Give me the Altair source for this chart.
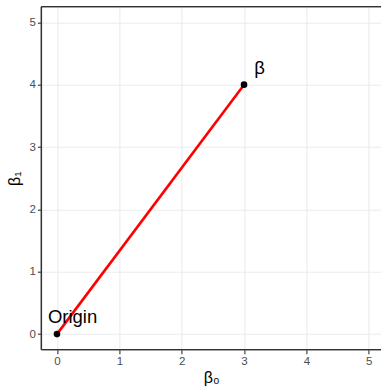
import altair as alt
import pandas as pd

# data
pt_x = [0, 3]
pt_y = [0, 4]
labels = ["Origin", "β"]
label_x = [0.25, 3.25]
label_y = [0.28, 4.27]
ticks = [0, 1, 2, 3, 4, 5]

pts = pd.DataFrame({"x": pt_x, "y": pt_y})
lab = pd.DataFrame({"x": label_x, "y": label_y, "label": labels})

W = 339.6
H = 343
# right edge of the panel falls just outside the 381px window in the reference
xs = alt.Scale(domain=[-0.25, 5.197], nice=False, zero=False)
ys = alt.Scale(domain=[-0.25, 5.25], nice=False, zero=False)

axis_common = dict(
    values=ticks,
    grid=True,
    gridColor="#EBEBEB",
    gridWidth=1.1,
    domain=False,
    tickColor="#333333",
    tickSize=4,
    tickWidth=1.1,
    labelColor="#4D4D4D",
    labelFont="Liberation Sans",
    labelFontSize=11.5,
    labelPadding=2,
    titleFont="Liberation Sans",
    titleFontSize=16,
    titleFontWeight="normal",
    titleColor="black",
    format="d",
)

xaxis = alt.Axis(title="β₀", titlePadding=2, **axis_common)
yaxis = alt.Axis(title="β₁", titlePadding=7, **axis_common)

line = alt.Chart(pts).mark_line(color="#FF0000", strokeWidth=2.6).encode(
    x=alt.X("x:Q", scale=xs, axis=xaxis),
    y=alt.Y("y:Q", scale=ys, axis=yaxis),
)

points = alt.Chart(pts).mark_circle(color="black", size=44, opacity=1).encode(
    x=alt.X("x:Q", scale=xs),
    y=alt.Y("y:Q", scale=ys),
)

text = alt.Chart(lab).mark_text(
    font="Liberation Sans", fontSize=18.5, color="black", align="center", baseline="middle"
).encode(
    x=alt.X("x:Q", scale=xs),
    y=alt.Y("y:Q", scale=ys),
    text="label:N",
)

# panel border (top, left, bottom; the right side is outside the window)
bstyle = dict(color="#333333", strokeWidth=1.3)
b_top = alt.Chart(pts).mark_rule(**bstyle).encode(x=alt.value(0), x2=alt.value(W + 2), y=alt.value(0))
b_bot = alt.Chart(pts).mark_rule(**bstyle).encode(x=alt.value(0), x2=alt.value(W + 2), y=alt.value(H))
b_left = alt.Chart(pts).mark_rule(**bstyle).encode(x=alt.value(0), y=alt.value(0), y2=alt.value(H))

chart = (
    alt.layer(line, points, text, b_top, b_bot, b_left)
    .properties(
        width=W,
        height=H,
        autosize=alt.AutoSizeParams(type="none"),
        padding={"left": 41.4, "top": 6.7, "right": 0, "bottom": 37.3},
        background="white",
    )
    .configure_view(stroke=None)
)

chart.save("out.html", embed_options={"renderer": "svg", "actions": False})
